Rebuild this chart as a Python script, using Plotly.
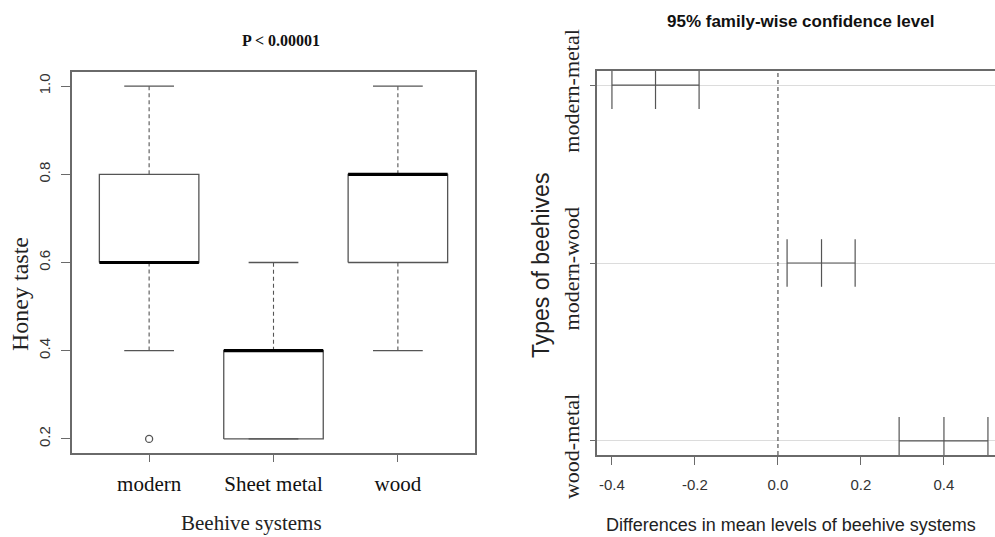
import plotly.graph_objects as go

# ---------------- data ----------------
categories = ["modern", "Sheet metal", "wood"]
lower_whisker = [0.4, 0.2, 0.4]
q1 = [0.6, 0.2, 0.6]
median = [0.6, 0.4, 0.8]
q3 = [0.8, 0.4, 0.8]
upper_whisker = [1.0, 0.6, 1.0]
outlier_cat = ["modern"]
outlier_val = [0.2]
y_ticks_left = [0.2, 0.4, 0.6, 0.8, 1.0]

comparisons = ["modern-metal", "modern-wood", "wood-metal"]
diff = [-0.295, 0.105, 0.400]
lwr = [-0.400, 0.022, 0.292]
upr = [-0.190, 0.186, 0.506]
x_ticks_right = [-0.4, -0.2, 0.0, 0.2, 0.4]

# ---------------- style ----------------
SERIF = "Liberation Serif"
SANS = "Liberation Sans"
LINE = "#555555"
FRAME = "#6a6a6a"
BOX_HALF = 0.4
CAP_HALF = 0.2

fig = go.Figure()

# ---------- left panel: boxplot ----------
for i, cat in enumerate(categories):
    xc = i + 1
    # box
    fig.add_trace(go.Scatter(
        x=[xc - BOX_HALF, xc + BOX_HALF, xc + BOX_HALF, xc - BOX_HALF, xc - BOX_HALF],
        y=[q1[i], q1[i], q3[i], q3[i], q1[i]],
        mode="lines", line=dict(color=LINE, width=1.3),
        xaxis="x", yaxis="y", showlegend=False, hoverinfo="skip"))
    # whiskers (dashed)
    fig.add_trace(go.Scatter(
        x=[xc, xc, None, xc, xc],
        y=[q3[i], upper_whisker[i], None, q1[i], lower_whisker[i]],
        mode="lines", line=dict(color=LINE, width=1.1, dash="4px,3px"),
        xaxis="x", yaxis="y", showlegend=False, hoverinfo="skip"))
    # caps
    fig.add_trace(go.Scatter(
        x=[xc - CAP_HALF, xc + CAP_HALF, None, xc - CAP_HALF, xc + CAP_HALF],
        y=[upper_whisker[i], upper_whisker[i], None, lower_whisker[i], lower_whisker[i]],
        mode="lines", line=dict(color=LINE, width=1.3),
        xaxis="x", yaxis="y", showlegend=False, hoverinfo="skip"))
    # median
    fig.add_trace(go.Scatter(
        x=[xc - BOX_HALF, xc + BOX_HALF], y=[median[i], median[i]],
        mode="lines", line=dict(color="black", width=3.2),
        xaxis="x", yaxis="y", showlegend=False, hoverinfo="skip"))

# outliers
fig.add_trace(go.Scatter(
    x=[categories.index(c) + 1 for c in outlier_cat], y=outlier_val,
    mode="markers",
    marker=dict(symbol="circle-open", size=7, color=LINE, line=dict(width=1.3)),
    xaxis="x", yaxis="y", showlegend=False, hoverinfo="skip"))

# ---------- right panel: Tukey HSD ----------
ypos = [len(comparisons) - k for k in range(len(comparisons))]
for k in range(len(comparisons)):
    fig.add_trace(go.Scatter(
        x=[lwr[k], upr[k]], y=[ypos[k], ypos[k]],
        mode="lines", line=dict(color=LINE, width=1.2),
        xaxis="x2", yaxis="y2", showlegend=False, hoverinfo="skip"))
    fig.add_trace(go.Scatter(
        x=[lwr[k], diff[k], upr[k]], y=[ypos[k]] * 3,
        mode="markers",
        marker=dict(symbol="line-ns-open", size=34, color=LINE, line=dict(width=1.2, color=LINE)),
        xaxis="x2", yaxis="y2", showlegend=False, hoverinfo="skip", cliponaxis=True))

# dashed zero line
fig.add_shape(type="line", xref="x2", yref="y2 domain", x0=0, x1=0, y0=0, y1=1,
              line=dict(color="#444", width=1.1, dash="4px,3px"))

fig.update_layout(
    width=995, height=537,
    margin=dict(l=0, r=0, t=0, b=0, autoexpand=False),
    paper_bgcolor="white", plot_bgcolor="white",
    showlegend=False,
    xaxis=dict(
        domain=[72 / 995, 475 / 995], range=[0.38, 3.62], automargin=False,
        tickvals=[1, 2, 3], ticktext=categories,
        ticks="outside", ticklen=7, tickcolor=FRAME, tickwidth=1.2,
        tickfont=dict(family=SERIF, size=21, color="#111"),
        ticklabelstandoff=4,
        showline=True, linecolor=FRAME, linewidth=1.5, mirror=True,
        showgrid=False, zeroline=False, fixedrange=True),
    yaxis=dict(
        domain=[1 - 453 / 537, 1 - 72 / 537], range=[0.168, 1.032], automargin=False,
        tickvals=y_ticks_left, ticktext=[f"{v:.1f}" for v in y_ticks_left],
        tickangle=-90,
        ticks="outside", ticklen=9, tickcolor=FRAME, tickwidth=1.2,
        tickfont=dict(family=SANS, size=15, color="#333"),
        ticklabelstandoff=5,
        showline=True, linecolor=FRAME, linewidth=1.5, mirror=True,
        showgrid=False, zeroline=False, fixedrange=True),
    xaxis2=dict(
        domain=[597 / 995, 1.0], range=[-0.436, 0.523], automargin=False,
        anchor="y2",
        tickvals=x_ticks_right, ticktext=[f"{v:.1f}" for v in x_ticks_right],
        ticks="outside", ticklen=8, tickcolor=FRAME, tickwidth=1.2,
        tickfont=dict(family=SANS, size=15, color="#333"),
        ticklabelstandoff=7,
        showline=True, linecolor=FRAME, linewidth=1.5, mirror=True,
        showgrid=False, zeroline=False, fixedrange=True),
    yaxis2=dict(
        domain=[1 - 455 / 537, 1 - 71 / 537], range=[0.92, 3.08], automargin=False,
        anchor="x2",
        tickvals=ypos, ticktext=comparisons,
        tickangle=-90,
        ticks="outside", ticklen=5, tickcolor=FRAME, tickwidth=1.2,
        tickfont=dict(family=SERIF, size=22, color="#222"),
        ticklabelstandoff=2, ticklabelshift=9,
        showline=True, linecolor=FRAME, linewidth=1.5, mirror=False,
        showgrid=True, gridcolor="#dcdcdc", gridwidth=1.2,
        zeroline=False, fixedrange=True),
)

annotations = [
    dict(text="<b>P &lt; 0.00001</b>", x=281 / 995, y=1 - 41 / 537, xref="paper", yref="paper",
         showarrow=False, font=dict(family=SERIF, size=16, color="#111"),
         xanchor="center", yanchor="middle"),
    dict(text="Honey taste", x=20 / 995, y=1 - 294 / 537, xref="paper", yref="paper",
         showarrow=False, textangle=-90, font=dict(family=SERIF, size=24, color="#222"),
         xanchor="center", yanchor="middle"),
    dict(text="Beehive systems", x=252 / 995, y=1 - 523 / 537, xref="paper", yref="paper",
         showarrow=False, font=dict(family=SERIF, size=21, color="#222"),
         xanchor="center", yanchor="middle"),
    dict(text="<b>95% family-wise confidence level</b>", x=800 / 995, y=1 - 21 / 537,
         xref="paper", yref="paper", showarrow=False,
         font=dict(family=SANS, size=17, color="#111"), xanchor="center", yanchor="middle"),
    dict(text="Types of beehives", x=541 / 995, y=1 - 266 / 537, xref="paper", yref="paper",
         showarrow=False, textangle=-90, font=dict(family=SANS, size=23, color="#222"),
         xanchor="center", yanchor="middle"),
    dict(text="Differences in mean levels of beehive systems", x=604 / 995, y=1 - 525 / 537,
         xref="paper", yref="paper", showarrow=False,
         font=dict(family=SANS, size=18, color="#222"), xanchor="left", yanchor="middle"),
]
fig.update_layout(annotations=annotations)

fig.write_html("out.html",
               config={"displayModeBar": False},
               post_script="document.body.style.margin='0px';document.body.style.overflow='hidden';")
